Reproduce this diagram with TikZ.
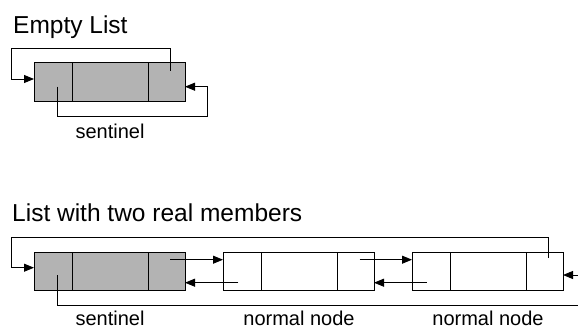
\documentclass[tikz,border=0pt]{standalone}
\usepackage{fontspec}
\setmainfont{Liberation Sans}
\usetikzlibrary{arrows.meta,calc}
\definecolor{sgray}{RGB}{179,179,179}
\begin{document}
\begin{tikzpicture}[x=1pt,y=-1pt,
  cell/.style={draw=black,line width=1pt,minimum height=38pt,inner sep=0pt,outer sep=0pt,anchor=west},
  wa/.style={minimum width=38pt},
  wb/.style={minimum width=76pt},
  wc/.style={minimum width=37pt},
  sent/.style={fill=sgray},
  link/.style={draw=black,line width=0.9pt},
  arr/.style={link,-{Triangle[length=10pt,width=8pt]}},
  title/.style={anchor=base west,inner sep=0pt,font=\fontsize{24.5}{28}\selectfont},
  lbl/.style={anchor=base,inner sep=0pt,font=\fontsize{20}{24}\selectfont}]
\useasboundingbox (0,0) rectangle (578,329);

% ---- Empty list ----
\node[title] (t1) at (13,34) {Empty List};
\node[cell,wa,sent] (e1) at (34,82) {};
\node[cell,wb,sent] (e2) at (e1.east) {};
\node[cell,wc,sent] (e3) at (e2.east) {};
\node[lbl] (l1) at ($(e2.center)+(0,56.3)$) {sentinel};

\coordinate (e1top) at (11,48);
\coordinate (e1bot) at (207.7,116);
\draw[arr] ($(e3.center)+(3.5,-11.3)$) |- (e1top) |- ($(e1.west)+(0,-3)$);
\draw[arr] ($(e1.center)+(4,4.7)$) |- (e1bot) |- ($(e3.east)+(0,4.7)$);

% ---- List with two real members ----
\node[title] (t2) at (12,221.7) {List with two real members};
\node[cell,wa,sent] (s1) at (34,271) {};
\node[cell,wb,sent] (s2) at (s1.east) {};
\node[cell,wc,sent] (s3) at (s2.east) {};

\node[cell,wa] (a1) at (223,271) {};
\node[cell,wb] (a2) at (a1.east) {};
\node[cell,wc] (a3) at (a2.east) {};

\node[cell,wa] (b1) at (412,271) {};
\node[cell,wb] (b2) at (b1.east) {};
\node[cell,wc] (b3) at (b2.east) {};

\node[lbl] (l2) at ($(s2.center)+(0,54)$) {sentinel};
\node[lbl] (l3) at ($(a2.center)+(0,54)$) {normal node};
\node[lbl] (l4) at ($(b2.center)+(0,54)$) {normal node};

% next links
\draw[arr] ($(s3.center)+(3.5,-11.3)$) -- ($(a1.west)+(0,-11.3)$);
\draw[arr] ($(a3.center)+(4,-11.3)$) -- ($(b1.west)+(0,-11.3)$);
% prev links
\draw[arr] ($(a1.center)+(-3.7,11.7)$) -- ($(s3.east)+(0,11.7)$);
\draw[arr] ($(b1.center)+(-4.3,11.7)$) -- ($(a3.east)+(0,11.7)$);

% wrap-around links
\coordinate (s1top) at (11,237.3);
\coordinate (s1bot) at (578,305);
\coordinate (rin) at (578,275);
\draw[arr] ($(b3.center)+(3.8,-13)$) |- (s1top) |- ($(s1.west)+(0,-3.3)$);
\draw[link] ($(s1.center)+(4,4)$) |- (s1bot);
\draw[arr] (rin) -- ($(b3.east)+(0,4)$);
\end{tikzpicture}
\end{document}
